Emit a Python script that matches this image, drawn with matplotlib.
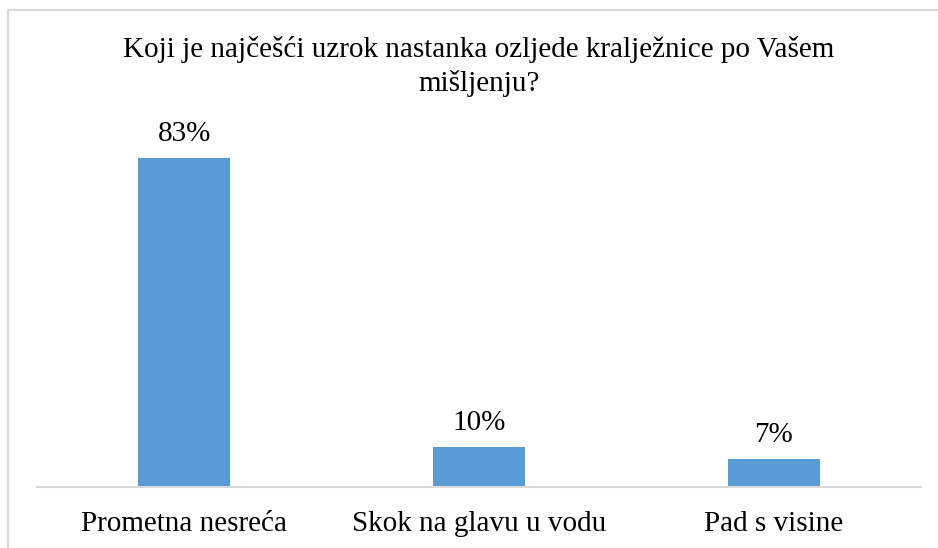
import matplotlib
matplotlib.use("Agg")
import matplotlib.pyplot as plt
from matplotlib.patches import Rectangle

categories = ["Prometna nesreća", "Skok na glavu u vodu", "Pad s visine"]
values = [83, 10, 7]
value_labels = ["83%", "10%", "7%"]
title_lines = ["Koji je najčešći uzrok nastanka ozljede kralježnice po Vašem",
               "mišljenju?"]

W, H, DPI = 938, 548, 100
plt.rcParams["font.family"] = ["Liberation Serif", "DejaVu Serif"]

fig = plt.figure(figsize=(W / DPI, H / DPI), dpi=DPI)

# chart frame (extends past the right and bottom edges)
fig.patches.append(Rectangle((8 / W, -0.05), 1.0, 1 - 10 / H + 0.05,
                             transform=fig.transFigure, fill=False,
                             edgecolor="#D9D9D9", linewidth=1.5))

# plot area in pixel coordinates
left, right, bottom, top = 37, 921, 487, 120
ax = fig.add_axes([left / W, 1 - bottom / H, (right - left) / W, (bottom - top) / H])

px_per_unit = 3.963
ax.set_ylim(0, (bottom - top) / px_per_unit)
ax.set_xlim(-0.5, len(categories) - 0.5)

x = range(len(categories))
ax.bar(x, values, width=0.312, color="#5B9BD5", zorder=2)
for xi, v, lab in zip(x, values, value_labels):
    ax.annotate(lab, (xi, v), xytext=(0, 12.3), textcoords="offset points",
                ha="center", va="baseline", fontsize=21, color="#000000")

# category labels with baseline 44 px below the axis line
ax.set_xticks(list(x))
ax.set_xticklabels([])
ax.tick_params(axis="x", length=0)
for xi, cat in zip(x, categories):
    ax.annotate(cat, (xi, 0), xytext=(0, -31.7), textcoords="offset points",
                ha="center", va="baseline", fontsize=21, color="#000000",
                annotation_clip=False)
ax.set_yticks([])
for s in ["left", "right", "top"]:
    ax.spines[s].set_visible(False)
ax.spines["bottom"].set_color("#D9D9D9")
ax.spines["bottom"].set_linewidth(1.5)

for line, base_px in zip(title_lines, [57, 91]):
    fig.text(479 / W, 1 - base_px / H, line, ha="center", va="baseline",
             fontsize=21)

fig.savefig("out.png", dpi=DPI)
